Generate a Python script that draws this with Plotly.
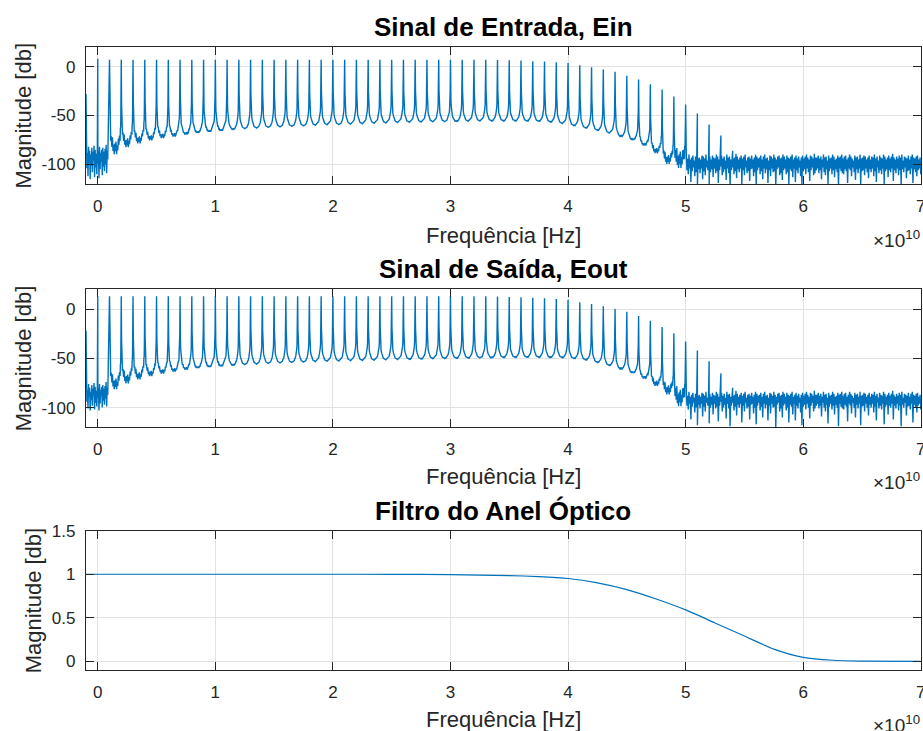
import numpy as np
import plotly.graph_objects as go

# ---------------- data ----------------
# harmonic index k -> frequency k GHz (comb spacing 1 GHz)
harmonic_ghz = list(range(0, 55))

ein_peak_db = [8.0,
               7.0, 7.0, 7.0, 7.0, 7.0, 7.0, 7.0, 7.0, 7.0, 7.0,
               7.0, 7.0, 7.0, 7.0, 7.0, 7.0, 7.0, 7.0, 7.0, 7.0,
               7.0, 7.0, 7.0, 7.0, 7.0, 7.0, 7.0, 7.0, 7.0, 7.0,
               7.0, 7.0, 7.0, 6.8, 6.5, 6.1, 5.4, 5.1, 4.4, 3.7,
               1.4, -0.7, -3.1, -5.4, -9.5, -13.3, -18.0, -23.5, -30.6, -38.8,
               -48.0, -59.2, -70.4, -86.0]
eout_peak_db = [13.0,
                13.0, 13.0, 13.0, 13.0, 13.0, 13.0, 13.0, 13.0, 13.0, 13.0,
                13.0, 13.0, 13.0, 13.0, 13.0, 13.0, 13.0, 13.0, 13.0, 13.0,
                13.0, 13.0, 13.0, 13.0, 13.0, 13.0, 13.0, 13.0, 13.0, 13.0,
                13.0, 13.0, 13.0, 12.6, 12.2, 11.9, 11.5, 10.8, 10.2, 9.5,
                6.8, 5.1, 2.7, 0.0, -2.8, -7.0, -11.9, -18.2, -24.5, -33.0,
                -42.2, -53.0, -65.3, -80.0]

# valley level between harmonic g and g+1 (g = 1..49)
ein_valley_db = [-83, -78, -75, -73, -71, -70, -68.5, -67, -66, -65,
                 -64, -63.3, -62.6, -62, -61.4, -60.8, -60.3, -59.8, -59.3, -59,
                 -58.6, -58.2, -57.8, -57.4, -57, -56.8, -56.5, -56.3, -56, -55.8,
                 -55.6, -55.5, -55.4, -55.4, -55.4, -55.5, -55.8, -56.5, -58, -60.2,
                 -62.6, -65, -67.7, -71, -74.5, -79.6, -86, -95, -95]
eout_valley_db = [-76, -71, -68, -65.5, -63.5, -62, -60.5, -59.3, -58.3, -57.5,
                  -56.8, -56.2, -55.6, -55, -54.5, -54, -53.6, -53.2, -52.8, -52.5,
                  -52.2, -52, -51.7, -51.4, -51.1, -50.8, -50.5, -50.2, -50, -49.8,
                  -49.6, -49.4, -49.2, -49, -48.9, -48.8, -48.8, -48.9, -49.2, -50,
                  -51.5, -54, -57, -60.5, -64.5, -69.5, -75.5, -82, -90]

# roughness (dB) of each valley, g = 1..49
ein_rough_db = [7, 5, 4, 3, 2.5, 2, 1.5, 1, 1, 1,
                0.4, 0.4, 0.4, 0.4, 0.4, 0.4, 0.4, 0.4, 0.4, 0.4,
                0.4, 0.4, 0.4, 0.4, 0.4, 0.4, 0.4, 0.4, 0.4, 0.4,
                0.4, 0.4, 0.4, 0.4, 0.4, 0.4, 0.4, 0.4, 0.4, 0.4,
                0.4, 0.4, 0.4, 0.6, 0.8, 1.5, 3, 5, 9]
eout_rough_db = [6, 5, 4, 3, 2.5, 2, 1.5, 1, 1, 1,
                 0.4, 0.4, 0.4, 0.4, 0.4, 0.4, 0.4, 0.4, 0.4, 0.4,
                 0.4, 0.4, 0.4, 0.4, 0.4, 0.4, 0.4, 0.4, 0.4, 0.4,
                 0.4, 0.4, 0.4, 0.4, 0.4, 0.4, 0.4, 0.4, 0.4, 0.4,
                 0.4, 0.4, 0.4, 0.6, 0.8, 1.5, 3, 5, 9]

# shape of one spectral line, from its peak (u=0) to mid-gap valley (u=1)
line_u = [0, 0.01, 0.02, 0.03, 0.05, 0.07, 0.1, 0.15, 0.2, 0.3, 0.4, 0.5, 0.6, 0.7, 0.8, 0.9, 1.0]
line_frac = [1.0, 0.93, 0.8, 0.68, 0.5, 0.38, 0.28, 0.2, 0.15, 0.1, 0.065, 0.042, 0.025, 0.013, 0.006, 0.0015, 0.0]
# texture across one gap (33 samples)
gap_texture = [0, 0.1, -0.2, 0.3, -0.4, 0.2, -0.6, 0.5, -0.9, 0.4,
               -0.7, 1.0, -0.8, 0.3, -1.0, 0.6, -0.5, 0.9, -1.0, 0.2,
               -0.7, 0.8, -0.4, 0.5, -0.9, 0.3, -0.6, 0.2, -0.3, 0.1,
               -0.1, 0.05, 0]

# left edge value and low-frequency noise (-1 .. 0.85 GHz)
ein_edge_db = -28
eout_edge_db = -22
ein_lf_hi = [-84, -88, -82, -86, -90, -83, -87, -81, -85, -89, -84, -86, -82, -88, -85, -83, -87, -84, -80, -86]
ein_lf_lo = [-104, -112, -98, -115, -101, -108, -96, -113, -103, -110, -99, -114, -105, -97, -111, -102, -107, -100, -109, -95]
eout_lf_hi = [-78, -82, -76, -80, -84, -77, -81, -75, -79, -83, -78, -80, -76, -82, -79, -77, -81, -78, -74, -80]
eout_lf_lo = [-94, -101, -89, -103, -92, -98, -88, -102, -95, -99, -90, -103, -96, -88, -100, -93, -97, -91, -99, -87]

# noise floor 50 .. 70 GHz (alternating upper / lower excursions)
ein_floor_hi = [
    -92, -94, -90, -95, -93, -91, -96, -92, -89, -94, -93, -95, -91, -92, -94, -90, -96, -93, -92, -95,
    -91, -93, -94, -90, -92, -95, -93, -91, -94, -92, -96, -90, -93, -92, -95, -91, -94, -93, -89, -92,
    -95, -93, -91, -94, -92, -90, -96, -93, -92, -94, -91, -95, -93, -90, -92, -94, -93, -91, -95, -92,
    -90, -94, -93, -96, -91, -92, -94, -90, -93, -95, -92, -91, -94, -93, -90, -92, -95, -91, -93, -94,
    -92, -90, -95, -93, -91, -94, -92, -96, -93, -91, -94, -92, -90, -93, -95, -91, -92, -94, -89, -93,
    -93, -91, -94, -92, -95, -90, -93, -92, -96, -91, -94, -93, -90, -92, -95, -94, -91, -93, -92, -90,
    -94, -92, -91, -95, -93, -90, -92, -94, -96, -91, -93, -92, -95, -90, -94, -93, -91, -92, -95, -93,
    -91, -95, -92, -93, -90, -94, -92, -96, -91, -93, -94, -90, -92, -95, -93, -91, -94, -92, -89, -93,
    -95, -92, -94, -91, -93, -90, -96, -92, -93, -94, -91, -95, -92, -90, -93, -94, -92, -91, -95, -93]
ein_floor_lo = [
    -106, -110, -104, -118, -107, -103, -112, -108, -121, -105, -109, -104, -115, -107, -111, -103, -106, -120, -108, -105,
    -113, -104, -109, -107, -119, -106, -102, -111, -108, -105, -116, -104, -109, -122, -106, -103, -110, -107, -114, -105,
    -108, -104, -120, -106, -111, -103, -109, -107, -117, -105, -104, -112, -108, -121, -106, -103, -110, -107, -115, -104,
    -109, -105, -119, -106, -112, -104, -108, -107, -122, -105, -103, -111, -109, -116, -106, -104, -110, -108, -120, -105,
    -107, -113, -104, -118, -106, -109, -103, -112, -121, -107, -105, -110, -104, -108, -117, -106, -103, -111, -109, -106,
    -104, -109, -106, -115, -103, -108, -111, -105, -120, -107, -104, -110, -106, -113, -105, -108, -122, -104, -107, -109,
    -110, -105, -107, -119, -104, -106, -112, -103, -108, -116, -105, -109, -104, -121, -107, -106, -111, -104, -108, -114,
    -105, -108, -104, -112, -107, -118, -103, -109, -106, -110, -104, -120, -107, -105, -113, -106, -108, -104, -117, -106,
    -109, -104, -111, -106, -121, -105, -108, -103, -114, -107, -106, -110, -104, -119, -105, -108, -112, -106, -104, -110]
eout_floor_hi = [
    -86, -88, -84, -89, -87, -85, -90, -86, -83, -88, -87, -89, -85, -86, -88, -84, -90, -87, -86, -89,
    -85, -87, -88, -84, -86, -89, -87, -85, -88, -86, -90, -84, -87, -86, -89, -85, -88, -87, -83, -86,
    -89, -87, -85, -88, -86, -84, -90, -87, -86, -88, -85, -89, -87, -84, -86, -88, -87, -85, -89, -86,
    -84, -88, -87, -90, -85, -86, -88, -84, -87, -89, -86, -85, -88, -87, -84, -86, -89, -85, -87, -88,
    -86, -84, -89, -87, -85, -88, -86, -90, -87, -85, -88, -86, -84, -87, -89, -85, -86, -88, -83, -87,
    -87, -85, -88, -86, -89, -84, -87, -86, -90, -85, -88, -87, -84, -86, -89, -88, -85, -87, -86, -84,
    -88, -86, -85, -89, -87, -84, -86, -88, -90, -85, -87, -86, -89, -84, -88, -87, -85, -86, -89, -87,
    -85, -89, -86, -87, -84, -88, -86, -90, -85, -87, -88, -84, -86, -89, -87, -85, -88, -86, -83, -87,
    -89, -86, -88, -85, -87, -84, -90, -86, -87, -88, -85, -89, -86, -84, -87, -88, -86, -85, -89, -87]
eout_floor_lo = [
    -98, -102, -96, -112, -99, -95, -105, -100, -118, -97, -101, -96, -109, -99, -104, -95, -98, -116, -100, -97,
    -107, -96, -101, -99, -114, -98, -94, -104, -100, -97, -111, -96, -101, -119, -98, -95, -103, -99, -108, -97,
    -100, -96, -115, -98, -104, -95, -101, -99, -112, -97, -96, -106, -100, -117, -98, -95, -103, -99, -110, -96,
    -101, -97, -113, -98, -106, -96, -100, -99, -120, -97, -95, -104, -101, -110, -98, -96, -103, -100, -115, -97,
    -99, -107, -96, -113, -98, -101, -95, -105, -118, -99, -97, -102, -96, -100, -111, -98, -95, -104, -101, -98,
    -96, -101, -98, -109, -95, -100, -104, -97, -116, -99, -96, -102, -98, -107, -97, -100, -119, -96, -99, -101,
    -102, -97, -99, -114, -96, -98, -106, -95, -100, -110, -97, -101, -96, -118, -99, -98, -104, -96, -100, -108,
    -97, -100, -96, -105, -99, -113, -95, -101, -98, -102, -96, -117, -99, -97, -107, -98, -100, -96, -112, -98,
    -101, -96, -103, -98, -119, -97, -100, -95, -108, -99, -98, -102, -96, -115, -97, -100, -105, -98, -96, -102]

# optical ring filter response
filter_ghz = [-1, 0, 10, 20, 25, 30, 35, 37.5, 40, 42.5, 45, 47.5, 50, 52.5, 55, 57.5, 60, 62.5, 65, 70]
filter_mag = [1, 1, 1, 1, 0.999, 0.995, 0.985, 0.973, 0.951, 0.9, 0.823, 0.715, 0.59, 0.44, 0.29, 0.14, 0.045, 0.012, 0.003, 0.0]

x_ticks = [0, 1, 2, 3, 4, 5, 6, 7]


def interleave(a, b):
    out = []
    for p, q in zip(a, b):
        out += [p, q]
    return out


def build_spectrum(peaks, valleys, rough, edge, lf_hi, lf_lo, fl_hi, fl_lo):
    pts = [(-1.0, edge)]
    lf = interleave(lf_hi, lf_lo)
    pts += list(zip(np.linspace(-0.97, 0.85, len(lf)), lf))
    pts.append((0.0, peaks[0]))
    pts.sort()
    n = len(line_u)
    for g in range(1, 50):
        p0, p1, v, a = peaks[g], peaks[g + 1], valleys[g - 1], rough[g - 1]
        seg = []
        for i in range(n):
            seg.append((g + line_u[i] / 2, v + (p0 - v) * line_frac[i]))
        for i in range(n - 2, -1, -1):
            seg.append((g + 1 - line_u[i] / 2, v + (p1 - v) * line_frac[i]))
        seg = [(x, y + a * gap_texture[j]) for j, (x, y) in enumerate(seg)]
        if g < 49:
            seg = seg[:-1]
        pts += seg
    fl = interleave(fl_hi, fl_lo)
    tail = list(zip(np.linspace(50.06, 70, len(fl)), fl))
    tail += [(harmonic_ghz[k], peaks[k]) for k in range(51, 55)]
    tail.sort()
    pts += tail
    xs = np.array([p[0] for p in pts]) * 1e9
    ys = np.array([p[1] for p in pts])
    return xs, ys


ein_x, ein_y = build_spectrum(ein_peak_db, ein_valley_db, ein_rough_db, ein_edge_db,
                              ein_lf_hi, ein_lf_lo, ein_floor_hi, ein_floor_lo)
eout_x, eout_y = build_spectrum(eout_peak_db, eout_valley_db, eout_rough_db, eout_edge_db,
                                eout_lf_hi, eout_lf_lo, eout_floor_hi, eout_floor_lo)

# ---------------- figure ----------------
W, H = 923, 731
BLUE = '#0072BD'
TXT = '#262626'
FONT = 'Liberation Sans, Arial, Helvetica, sans-serif'


def px(y):
    return 1 - y / H


fig = go.Figure()
fig.add_trace(go.Scatter(x=ein_x, y=ein_y, mode='lines', line=dict(color=BLUE, width=1.4),
                         xaxis='x', yaxis='y', showlegend=False, hoverinfo='skip'))
fig.add_trace(go.Scatter(x=eout_x, y=eout_y, mode='lines', line=dict(color=BLUE, width=1.4),
                         xaxis='x2', yaxis='y2', showlegend=False, hoverinfo='skip'))
fig.add_trace(go.Scatter(x=np.array(filter_ghz) * 1e9, y=filter_mag, mode='lines',
                         line=dict(color=BLUE, width=1.2, shape='spline', smoothing=0.6),
                         xaxis='x3', yaxis='y3', showlegend=False, hoverinfo='skip'))

xdom = [86 / W, 921 / W]
boxes = [(47, 184), (289.3, 427.3), (530.7, 670)]

common = dict(showline=True, linecolor=TXT, linewidth=1.3, mirror='ticks', ticks='inside',
              ticklen=8, tickwidth=1.3, tickcolor=TXT, showgrid=True, gridcolor='#E2E2E2',
              gridwidth=1, zeroline=False, tickfont=dict(family=FONT, size=17, color=TXT),
              ticklabeloverflow='allow', automargin=False)

layout = dict(width=W, height=H, margin=dict(l=0, r=0, t=0, b=0, autoexpand=False),
              paper_bgcolor='white', plot_bgcolor='white', showlegend=False)

yranges = [[-120, 20], [-120, 20], [-0.1, 1.5]]
yticks = [[-100, -50, 0], [-100, -50, 0], [0, 0.5, 1, 1.5]]
yticktext = [['-100', '-50', '0'], ['-100', '-50', '0'], ['0', '0.5', '1', '1.5']]
for i, (top, bot) in enumerate(boxes):
    s = '' if i == 0 else str(i + 1)
    layout['xaxis' + s] = dict(common, domain=xdom, anchor='y' + s, range=[-1e9, 7.002e10],
                               tickvals=[t * 1e10 for t in x_ticks], ticktext=[str(t) for t in x_ticks],
                               ticklabelstandoff=6)
    layout['yaxis' + s] = dict(common, domain=[px(bot), px(top)], anchor='x' + s,
                               range=yranges[i], tickvals=yticks[i], ticktext=yticktext[i],
                               ticklabelstandoff=6)

titles = ['Sinal de Entrada, Ein', 'Sinal de Saída, Eout', 'Filtro do Anel Óptico']
title_y = [27, 269, 510.5]
xlabel_y = [235, 476, 719]
exp_y = [239, 481, 724]
ylabel_x = [23, 23, 33]
ann = []
cx = (86 + 921) / 2 / W
for i, (top, bot) in enumerate(boxes):
    ann.append(dict(text='<b>' + titles[i] + '</b>', x=cx, y=px(title_y[i]), xref='paper', yref='paper',
                    xanchor='center', yanchor='middle', showarrow=False,
                    font=dict(family=FONT, size=26, color='black')))
    ann.append(dict(text='Frequência [Hz]', x=cx, y=px(xlabel_y[i]), xref='paper', yref='paper',
                    xanchor='center', yanchor='middle', showarrow=False,
                    font=dict(family=FONT, size=22, color=TXT)))
    ann.append(dict(text='×10<sup>10</sup>', x=922 / W, y=px(exp_y[i]), xref='paper', yref='paper',
                    xanchor='right', yanchor='middle', showarrow=False,
                    font=dict(family=FONT, size=19, color=TXT)))
    ann.append(dict(text='Magnitude [db]', x=ylabel_x[i] / W, y=px((top + bot) / 2), xref='paper',
                    yref='paper', xanchor='center', yanchor='middle', textangle=-90, showarrow=False,
                    font=dict(family=FONT, size=22, color=TXT)))
layout['annotations'] = ann

fig.update_layout(**layout)
fig.write_html('out.html')
